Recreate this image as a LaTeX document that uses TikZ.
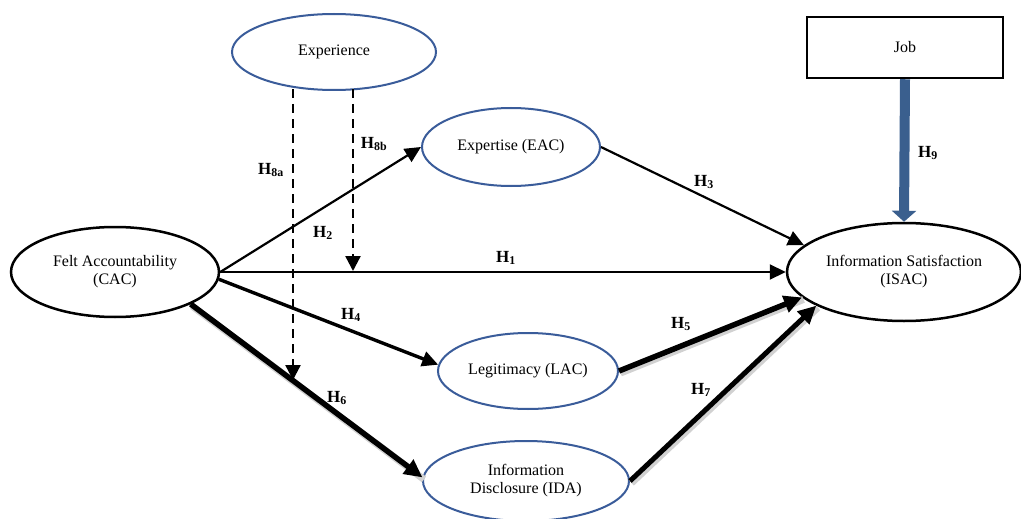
\documentclass[tikz,border=0pt]{standalone}
\usepackage{fontspec}
\setmainfont{Liberation Serif}
\usetikzlibrary{shapes.geometric,arrows.meta}
\definecolor{eblue}{HTML}{3A5C9A}
\definecolor{jblue}{HTML}{3A5F8E}
\tikzset{
  blueell/.style={ellipse,draw=eblue,line width=2pt,inner sep=0pt,align=center,font=\fontsize{16}{18}\selectfont},
  blackell/.style={ellipse,draw=black,line width=2.5pt,inner sep=0pt,align=center,font=\fontsize{16}{18}\selectfont},
  hlab/.style={font=\fontsize{17}{18}\selectfont\bfseries},
  tip/.style={-{Triangle[length=16pt,width=15pt]}},
  thinarr/.style={tip,line width=2.2pt},
  medarr/.style={tip,line width=3.4pt},
  thickarr/.style={-{Triangle[length=18pt,width=17pt]},line width=5.5pt},
  dasharr/.style={-{Triangle[length=15pt,width=15pt]},line width=2.4pt,dash pattern=on 9pt off 6pt},
  shadowline/.style={draw=black!18,line width=7pt},
}
\begin{document}
\begin{tikzpicture}[x=1pt,y=-1pt]
\useasboundingbox (0,0) rectangle (1021,519);
\fill[white] (0,0) rectangle (1021,519);
% nodes
\node[blueell,minimum width=204pt,minimum height=76pt] (exp) at (334,52) {Experience};
\node[blueell,minimum width=178pt,minimum height=78pt] (eac) at (511,147) {Expertise (EAC)};
\node[blackell,minimum width=208pt,minimum height=90pt] (cac) at (115,272) {Felt Accountability\\(CAC)};
\node[blackell,minimum width=234pt,minimum height=98pt] (isac) at (904,272) {Information Satisfaction\\(ISAC)};
\node[blueell,minimum width=180pt,minimum height=76pt] (lac) at (528,371) {Legitimacy (LAC)};
\node[blueell,minimum width=206pt,minimum height=80pt] (ida) at (526,481) {Information\\Disclosure (IDA)};
\node[draw,line width=2.5pt,minimum width=196pt,minimum height=61pt,inner sep=0pt,font=\fontsize{16}{18}\selectfont] (job) at (905,47.5) {Job};
% dashed moderator endpoints
\coordinate (d1s) at (293,89);
\coordinate (d1e) at (293,380);
\coordinate (d2s) at (353,89);
\coordinate (d2e) at (353,271);
% shadows for thick arrows
\begin{scope}[transform canvas={shift={(1.5pt,-2pt)}}]
\draw[shadowline] (cac.-23) -- (ida.178);
\draw[shadowline] (lac.east) -- (isac.194);
\draw[shadowline] (ida.east) -- (isac.201);
\end{scope}
% arrows
\draw[thinarr] (cac.east) -- (eac.west);
\draw[thinarr] (cac.east) -- (isac.west);
\draw[thinarr] (eac.east) -- (isac.165);
\draw[medarr] (cac.-4) -- (lac.176);
\draw[thickarr] (cac.-23) -- (ida.178);
\draw[thickarr] (lac.east) -- (isac.194);
\draw[thickarr,line width=5pt] (ida.east) -- (isac.201);
\draw[-{Triangle[length=11pt,width=24pt]},line width=10pt,draw=jblue,fill=jblue] (job.south) -- (isac.north);
\draw[dasharr] (d1s) -- (d1e);
\draw[dasharr] (d2s) -- (d2e);
% labels
\node[hlab] (l8a) at (271,170) {H\textsubscript{8a}};
\node[hlab] (l8b) at (374,144) {H\textsubscript{8b}};
\node[hlab] (l2) at (323,233) {H\textsubscript{2}};
\node[hlab] (l1) at (506,258) {H\textsubscript{1}};
\node[hlab] (l3) at (704,182) {H\textsubscript{3}};
\node[hlab] (l4) at (351,315) {H\textsubscript{4}};
\node[hlab] (l5) at (681,324) {H\textsubscript{5}};
\node[hlab] (l6) at (337,398) {H\textsubscript{6}};
\node[hlab] (l7) at (701,390) {H\textsubscript{7}};
\node[hlab] (l9) at (928,153) {H\textsubscript{9}};
\end{tikzpicture}
\end{document}
